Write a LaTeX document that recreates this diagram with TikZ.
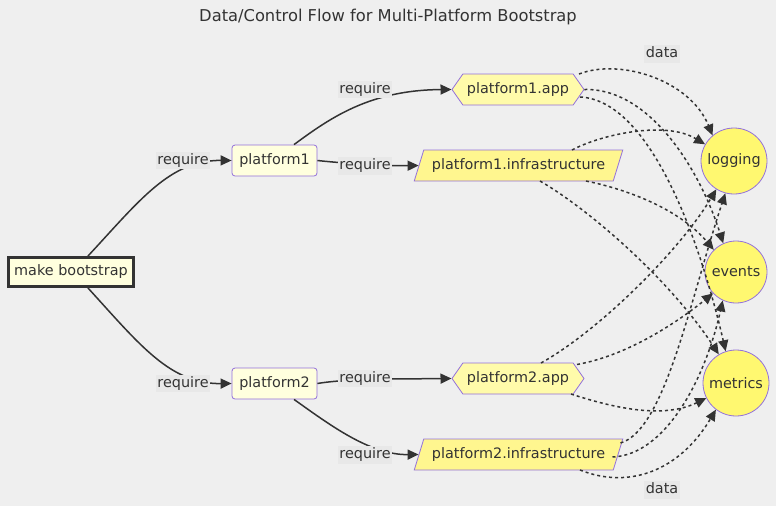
\documentclass[tikz,border=0pt]{standalone}
\usepackage{fontspec}
\setmainfont{DejaVu Sans}
\usetikzlibrary{arrows.meta,shapes.geometric,shapes.symbols}
\definecolor{bgGray}{HTML}{EFEFEF}
\definecolor{inkGray}{HTML}{333333}
\definecolor{boxPurple}{HTML}{9370DB}
\definecolor{pfFill}{HTML}{FFFFDE}
\definecolor{appFill}{HTML}{FFFBAA}
\definecolor{infraFill}{HTML}{FFF68F}
\definecolor{sinkFill}{HTML}{FFF870}
\definecolor{labelGray}{HTML}{E8E8E8}

\begin{document}
\begin{tikzpicture}[x=1pt,y=-1pt,
  every node/.style={font=\fontsize{14.4}{17}\selectfont,text=inkGray},
  makebox/.style={draw=inkGray,line width=3pt,fill=pfFill,minimum width=125,minimum height=29,inner sep=0pt},
  platbox/.style={draw=boxPurple,line width=0.8pt,fill=pfFill,rounded corners=3pt,minimum width=85,minimum height=31,inner sep=0pt},
  appbox/.style={shape=signal,signal to=west and east,signal pointer angle=110,draw=boxPurple,line width=0.8pt,fill=appFill,minimum width=132,minimum height=31,inner sep=0pt},
  infrabox/.style={shape=trapezium,trapezium stretches=true,trapezium left angle=58,trapezium right angle=122,draw=boxPurple,line width=0.8pt,fill=infraFill,minimum width=209,minimum height=31,inner sep=0pt},
  sink/.style={circle,draw=boxPurple,line width=0.8pt,fill=sinkFill,inner sep=0pt},
  reqlabel/.style={fill=labelGray,inner sep=1.5pt,text height=11pt,text depth=3.5pt},
  require/.style={draw=inkGray,line width=1.5pt,-{Triangle[length=11pt,width=10pt]}},
  dataflow/.style={draw=inkGray,line width=1.5pt,dash pattern=on 3pt off 3pt,-{Triangle[length=11pt,width=10pt]}}]

  \useasboundingbox (0,0) rectangle (784,512);
  \fill[bgGray] (0,0) rectangle (776,506);

  \node[font=\fontsize{16.3}{19}\selectfont] (title) at (388,17) {Data/Control Flow for Multi-Platform Bootstrap};

  \node[makebox] (mb) at (71,272) {make bootstrap};
  \node[platbox] (pl1) at (274.5,160.5) {platform1};
  \node[platbox] (pl2) at (274.5,383.5) {platform2};
  \node[appbox] (p1app) at (518,89.5) {platform1.app};
  \node[infrabox] (p1infra) at (518.5,165.5) {platform1.infrastructure};
  \node[appbox] (p2app) at (518,378.5) {platform2.app};
  \node[infrabox] (p2infra) at (518.5,454.5) {platform2.infrastructure};
  \node[sink,minimum size=66] (lg) at (734,161) {logging};
  \node[sink,minimum size=62] (ev) at (736,272) {events};
  \node[sink,minimum size=66] (mt) at (736,383) {metrics};

  \draw[require] ([xshift=17]mb.north) .. controls (140,200) and (170,160) .. (pl1.west);
  \draw[require] ([xshift=17]mb.south) .. controls (140,345) and (170,384) .. (pl2.west);
  \draw[require] ([xshift=19.5]pl1.north) .. controls (330,118) and (370,90) .. (p1app.west);
  \draw[require] (pl1.east) .. controls (350,164) and (390,166) .. (p1infra.west);
  \draw[require] (pl2.east) .. controls (350,378) and (410,379) .. (p2app.west);
  \draw[require] ([xshift=19.5]pl2.south) .. controls (330,425) and (370,455) .. (p2infra.west);

  \node[reqlabel] (r1) at (183,160.5) {require};
  \node[reqlabel] (r2) at (183,383.5) {require};
  \node[reqlabel] (r3) at (365,89.5) {require};
  \node[reqlabel] (r4) at (365,166) {require};
  \node[reqlabel] (r5) at (365,378.5) {require};
  \node[reqlabel] (r6) at (365,455) {require};

  \draw[dataflow] ([shift={(61,-15.5)}]p1app.center) .. controls (620,58) and (690,80) .. (lg.130);
  \draw[dataflow] (p1app.east) .. controls (650,88) and (700,170) .. (ev.114);
  \draw[dataflow] ([shift={(62,7.5)}]p1app.center) .. controls (650,100) and (700,240) .. (mt.108);
  \draw[dataflow] ([shift={(53.5,-15.5)}]p1infra.center) .. controls (600,135) and (665,120) .. (lg.150);
  \draw[dataflow] ([shift={(67.5,15.5)}]p1infra.center) .. controls (630,190) and (680,210) .. (ev.135);
  \draw[dataflow] ([shift={(21.5,15.5)}]p1infra.center) .. controls (590,210) and (670,280) .. (mt.121);
  \draw[dataflow] ([shift={(23,-15.5)}]p2app.center) .. controls (600,330) and (680,250) .. (lg.238);
  \draw[dataflow] ([shift={(59,-14)}]p2app.center) .. controls (630,355) and (680,320) .. (ev.223);
  \draw[dataflow] ([shift={(53,15.5)}]p2app.center) .. controls (620,410) and (665,418) .. (mt.207);
  \draw[dataflow] ([shift={(102,-11.5)}]p2infra.center) .. controls (665,430) and (690,300) .. (lg.255);
  \draw[dataflow] ([shift={(94,2.5)}]p2infra.center) .. controls (665,455) and (705,380) .. (ev.245);
  \draw[dataflow] ([shift={(61.5,15.5)}]p2infra.center) .. controls (630,490) and (680,470) .. (mt.233);

  \node[reqlabel] (d1) at (662,54) {data};
  \node[reqlabel] (d2) at (662,490) {data};
\end{tikzpicture}
\end{document}
